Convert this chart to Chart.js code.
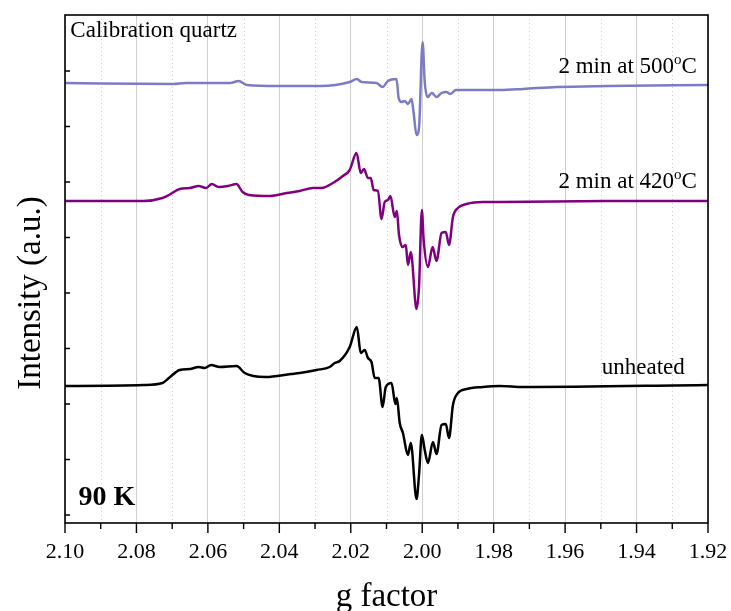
<!DOCTYPE html>
<html>
<head>
<meta charset="utf-8">
<script src="https://cdn.jsdelivr.net/npm/chart.js@4.4.0/dist/chart.umd.min.js"></script>
<style>
  html, body { margin: 0; padding: 0; background: #fff; }
  #wrap { width: 731px; height: 611px; }
</style>
</head>
<body>
<div id="wrap"><canvas id="epr"></canvas></div>
<script>
/* ============================================================
   SPECTRA  —  g factor vs intensity (a.u., traces stacked)
============================================================ */
const gQuartz = [2.1000, 2.0697, 2.0662, 2.0538, 2.0514, 2.0491, 2.0402, 2.0343, 2.0284, 2.0203,
                 2.0183, 2.0170, 2.0128, 2.0111, 2.0096, 2.0072, 2.0066, 2.0058, 2.0049, 2.0040,
                 2.0030, 2.0024, 2.0016, 2.0009, 1.9999, 1.9993, 1.9985, 1.9973, 1.9960, 1.9946,
                 1.9932, 1.9921, 1.9906, 1.9783, 1.9718, 1.9624, 1.9483, 1.9200];
const iQuartz = [432, 431, 432, 432, 434, 430, 429, 429, 429, 433,
                 436, 433, 432, 428, 434, 436, 417, 413, 414, 411,
                 416, 402, 380, 387, 473, 433, 418, 422, 418, 422,
                 423, 421, 425, 425, 426, 428, 429, 430];

const g420 = [2.1000, 2.0780, 2.0727, 2.0709, 2.0679, 2.0650, 2.0626, 2.0605, 2.0589, 2.0570,
              2.0544, 2.0520, 2.0503, 2.0485, 2.0426, 2.0379, 2.0343, 2.0306, 2.0282, 2.0250,
              2.0222, 2.0203, 2.0184, 2.0172, 2.0163, 2.0152, 2.0144, 2.0136, 2.0124, 2.0114,
              2.0105, 2.0096, 2.0089, 2.0077, 2.0071, 2.0065, 2.0055, 2.0046, 2.0040, 2.0032,
              2.0016, 2.0009, 2.0001, 1.9996, 1.9984, 1.9971, 1.9960, 1.9946, 1.9934, 1.9925,
              1.9914, 1.9900, 1.9876, 1.9830, 1.9783, 1.9483, 1.9200];
const i420 = [314, 314, 317, 320, 326, 327, 329, 327, 331, 328,
              329, 331, 323, 320, 319, 322, 324, 327, 327, 332,
              339, 345, 362, 342, 346, 337, 337, 325, 324, 296,
              313, 315, 319, 298, 304, 280, 268, 270, 250, 263,
              206, 228, 305, 275, 248, 268, 254, 282, 283, 270,
              298, 307, 311, 313, 313, 314, 314];

const gRaw = [2.1000, 2.0780, 2.0727, 2.0709, 2.0679, 2.0650, 2.0626, 2.0609, 2.0591, 2.0567,
              2.0520, 2.0497, 2.0473, 2.0438, 2.0367, 2.0343, 2.0296, 2.0259, 2.0245, 2.0231,
              2.0203, 2.0183, 2.0172, 2.0161, 2.0152, 2.0142, 2.0133, 2.0122, 2.0111, 2.0102,
              2.0086, 2.0075, 2.0071, 2.0063, 2.0054, 2.0040, 2.0032, 2.0016, 2.0009, 2.0001,
              1.9993, 1.9984, 1.9970, 1.9960, 1.9946, 1.9934, 1.9925, 1.9914, 1.9900, 1.9876,
              1.9830, 1.9783, 1.9718, 1.9200];
const iRaw = [129, 130, 132, 137, 145, 146, 148, 147, 150, 148,
              149, 142, 139, 138, 141, 142, 145, 148, 152, 154,
              168, 188, 162, 165, 157, 153, 137, 137, 108, 128,
              132, 111, 117, 92, 82, 60, 72, 16, 40, 80,
              65, 52, 73, 61, 90, 91, 77, 110, 122, 126,
              128, 129, 128, 130];

/* trace labels: text, superscript, tail; anchored at (g, intensity) */
const traceText   = ['2 min at 500', '2 min at 420', 'unheated'];
const traceSup    = ['o', 'o', ''];
const traceTail   = ['C', 'C', ''];
const traceLabelG = [1.9231, 1.9231, 1.9265];
const traceLabelI = [442, 327, 141];
const traceColors = ['#7b7bc6', '#800080', '#000000'];

/* free notes */
const noteText = ['Calibration quartz', '90 K'];
const noteG    = [2.0985, 2.0962];
const noteI    = [478, 10];

/* axis ticks */
const gMajor = [2.10, 2.08, 2.06, 2.04, 2.02, 2.00, 1.98, 1.96, 1.94, 1.92];
const gMinor = [2.09, 2.07, 2.05, 2.03, 2.01, 1.99, 1.97, 1.95, 1.93];

const SERIF = '"Liberation Serif", "Times New Roman", serif';

function toPoints(gs, vs) {
  return gs.map((g, k) => ({ x: g, y: vs[k] }));
}

/* ============================================================
   FRAME, TICKS AND TEXT
============================================================ */
const decorPlugin = {
  id: 'decor',
  beforeDatasetsDraw(chart) {
    const { ctx, chartArea: a, scales: { x } } = chart;
    ctx.save();
    ctx.strokeStyle = '#cfcfcf';
    ctx.lineWidth = 1;
    ctx.setLineDash([1, 3]);
    gMinor.forEach(g => {
      const px = Math.round(x.getPixelForValue(g)) + 0.5;
      ctx.beginPath();
      ctx.moveTo(px, a.top);
      ctx.lineTo(px, a.bottom);
      ctx.stroke();
    });
    ctx.restore();
  },
  afterDraw(chart) {
    const { ctx, chartArea: a, scales: { x, y } } = chart;
    ctx.save();

    // axis box
    ctx.strokeStyle = '#000';
    ctx.lineWidth = 1.6;
    ctx.strokeRect(a.left, a.top, a.right - a.left, a.bottom - a.top);

    // x ticks, pointing out
    ctx.lineWidth = 1.4;
    ctx.beginPath();
    gMajor.forEach(g => {
      const px = x.getPixelForValue(g);
      ctx.moveTo(px, a.bottom); ctx.lineTo(px, a.bottom + 10);
    });
    gMinor.forEach(g => {
      const px = x.getPixelForValue(g);
      ctx.moveTo(px, a.bottom); ctx.lineTo(px, a.bottom + 6);
    });
    // y ticks, pointing in
    y.ticks.forEach(t => {
      const py = y.getPixelForValue(t.value);
      if (py < a.top + 4 || py > a.bottom - 4) return;
      ctx.moveTo(a.left, py); ctx.lineTo(a.left + 5, py);
    });
    ctx.stroke();

    // trace labels
    ctx.fillStyle = '#000';
    ctx.textBaseline = 'alphabetic';
    ctx.textAlign = 'left';
    traceText.forEach((txt, k) => {
      const right = x.getPixelForValue(traceLabelG[k]);
      const base = y.getPixelForValue(traceLabelI[k]);
      ctx.font = '23px ' + SERIF;
      const wMain = ctx.measureText(txt).width;
      const wTail = ctx.measureText(traceTail[k]).width;
      ctx.font = '15px ' + SERIF;
      const wSup = ctx.measureText(traceSup[k]).width;
      let cx = right - wMain - wSup - wTail;
      ctx.font = '23px ' + SERIF;
      ctx.fillText(txt, cx, base);
      cx += wMain;
      ctx.font = '15px ' + SERIF;
      ctx.fillText(traceSup[k], cx, base - 9);
      cx += wSup;
      ctx.font = '23px ' + SERIF;
      ctx.fillText(traceTail[k], cx, base);
    });

    // notes
    ctx.font = '23px ' + SERIF;
    ctx.fillText(noteText[0], x.getPixelForValue(noteG[0]), y.getPixelForValue(noteI[0]));
    ctx.font = 'bold 28px ' + SERIF;
    ctx.fillText(noteText[1], x.getPixelForValue(noteG[1]), y.getPixelForValue(noteI[1]));

    // axis titles
    ctx.font = '33px ' + SERIF;
    ctx.textAlign = 'center';
    ctx.fillText('g factor', (a.left + a.right) / 2, chart.height - 5);
    ctx.translate(40, 293);
    ctx.rotate(-Math.PI / 2);
    ctx.fillText('Intensity (a.u.)', 0, 0);

    ctx.restore();
  }
};

/* ============================================================
   CHART
============================================================ */
const series = [
  { data: toPoints(gQuartz, iQuartz), color: traceColors[0] },
  { data: toPoints(g420, i420),       color: traceColors[1] },
  { data: toPoints(gRaw, iRaw),       color: traceColors[2] }
];

new Chart(document.getElementById('epr'), {
  type: 'line',
  data: {
    datasets: series.map(s => ({
      data: s.data,
      borderColor: s.color,
      borderWidth: 2.5,
      pointRadius: 0,
      fill: false,
      cubicInterpolationMode: 'monotone'
    }))
  },
  options: {
    responsive: true,
    maintainAspectRatio: false,
    animation: false,
    layout: { padding: { top: 15, right: 23, left: 0, bottom: 0 } },
    plugins: { legend: { display: false }, tooltip: { enabled: false } },
    scales: {
      x: {
        type: 'linear',
        reverse: true,
        min: 1.92,
        max: 2.10,
        afterFit: s => { s.height = 88; s.paddingLeft = 0; s.paddingRight = 0; },
        ticks: {
          stepSize: 0.02,
          padding: 16,
          color: '#000',
          font: { family: SERIF, size: 22 },
          callback: v => v.toFixed(2)
        },
        grid: { color: '#cfcfcf', lineWidth: 1, drawTicks: false },
        border: { display: false }
      },
      y: {
        min: -8,
        max: 500,
        afterFit: s => { s.width = 65; s.paddingTop = 0; s.paddingBottom = 0; },
        ticks: { display: false, stepSize: 55.5, includeBounds: false },
        grid: { display: false },
        border: { display: false }
      }
    }
  },
  plugins: [decorPlugin]
});
</script>
</body>
</html>
